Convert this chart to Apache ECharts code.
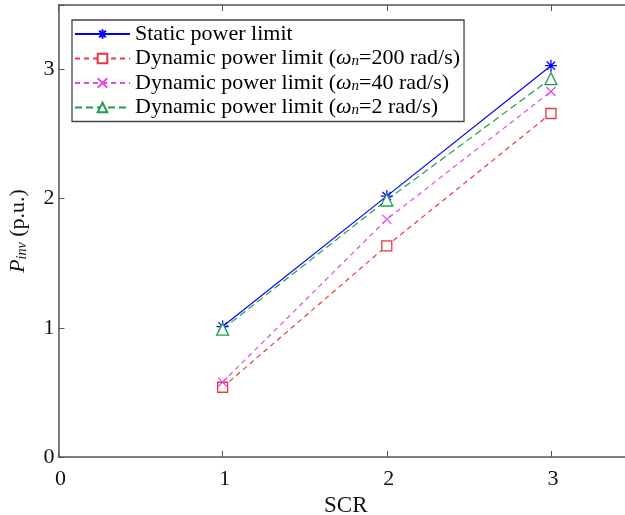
<!DOCTYPE html>
<html><head><meta charset="utf-8">
<script src="https://cdn.jsdelivr.net/npm/echarts@6/dist/echarts.min.js"></script>
<style>html,body{margin:0;padding:0;background:#fff}#c{width:625px;height:515px}</style>
</head><body><div id="c"></div>
<script>
const scr = [1, 2, 3];
const staticLimit = [1.01, 2.02, 3.03];
const dyn200 = [0.54, 1.635, 2.66];
const dyn40 = [0.58, 1.84, 2.83];
const dyn2 = [0.99, 1.99, 2.93];
const xTicks = [0, 1, 2, 3];
const yTicks = [0, 1, 2, 3];
const seriesNames = ['Static power limit', 'Dyn200', 'Dyn40', 'Dyn2'];
const legendLabels = {
  'Static power limit': 'Static power limit',
  'Dyn200': 'Dynamic power limit ({i|ω}{s|n}=200 rad/s)',
  'Dyn40': 'Dynamic power limit ({i|ω}{s|n}=40 rad/s)',
  'Dyn2': 'Dynamic power limit ({i|ω}{s|n}=2 rad/s)'
};
const FF = '"Liberation Serif","Times New Roman",serif';
const star = 'path://M5 0 L5 10 M0 5 L10 5 M1.5 1.5 L8.5 8.5 M8.5 1.5 L1.5 8.5';
const cross = 'path://M0 0 L10 10 M10 0 L0 10';
function pts(ys){ return scr.map((x,i)=>[x, ys[i]]); }
function mk(name, ys, color, dash, symbol, size, filledNone){
  return {
    name, type:'line', data: pts(ys), symbol, symbolSize: size,
    showSymbol:true,
    lineStyle:{color, width:1.2, type: dash},
    itemStyle:{color: filledNone ? 'none' : '#fff', borderColor: color, borderWidth:1.3},
    emphasis:{disabled:true}, animation:false, z: 3
  };
}
const chart = echarts.init(document.getElementById('c'));
const axisCol = '#555';
chart.setOption({
  animation:false,
  grid:{left:58.5, top:5, right:-8, bottom:58, containLabel:false, outerBoundsMode:'none'},
  legend:{
    orient:'vertical', left:72, top:20,
    data: seriesNames,
    backgroundColor:'#fff', borderColor:'#444', borderWidth:1.3,
    padding:[3,4,3,2], itemGap:0, itemWidth:55, itemHeight:12,
    textStyle:{fontFamily:FF, fontSize:22, color:'#000', lineHeight:21,
      rich:{
        i:{fontFamily:FF, fontSize:22, fontStyle:'italic', color:'#000', lineHeight:21},
        s:{fontFamily:FF, fontSize:15, fontStyle:'italic', color:'#000', verticalAlign:'bottom', lineHeight:21, padding:[9,0,0,0]}
      }},
    formatter: n => legendLabels[n]
  },
  xAxis:[{
    type:'value', min:0, max:3.5, interval:1,
    axisLine:{show:true, onZero:false, lineStyle:{color:axisCol, width:1.5}},
    axisTick:{show:true, inside:true, length:6, lineStyle:{color:axisCol}},
    axisLabel:{fontFamily:FF, fontSize:22, color:'#111', margin:11, padding:[0,0,0,4],
      formatter: v => xTicks.includes(v) ? String(v) : ''},
    splitLine:{show:false},
    name:'SCR', nameLocation:'middle', nameGap:29,
    nameTextStyle:{fontFamily:FF, fontSize:23, color:'#111'}
  },{
    type:'value', position:'top', min:0, max:3.5, interval:1,
    axisLine:{show:true, onZero:false, lineStyle:{color:axisCol, width:1.5}},
    axisTick:{show:true, inside:true, length:6, lineStyle:{color:axisCol}},
    axisLabel:{show:false}, splitLine:{show:false}
  }],
  yAxis:[{
    type:'value', min:0, max:3.5, interval:1,
    axisLine:{show:true, onZero:false, lineStyle:{color:axisCol, width:1.5}},
    axisTick:{show:true, inside:true, length:6, lineStyle:{color:axisCol}},
    axisLabel:{fontFamily:FF, fontSize:22, color:'#111', margin:4,
      formatter: v => yTicks.includes(v) ? String(v) : ''},
    splitLine:{show:false},
    name:'{p|P}{s|inv} {n|(p.u.)}', nameLocation:'middle', nameGap:29, nameRotate:90,
    nameTextStyle:{fontFamily:FF, fontSize:22, color:'#111',
      rich:{
        p:{fontFamily:FF, fontSize:22, fontStyle:'italic', color:'#111'},
        s:{fontFamily:FF, fontSize:14, fontStyle:'italic', color:'#111', verticalAlign:'bottom', padding:[8,0,0,0]},
        n:{fontFamily:FF, fontSize:22, color:'#111'}
      }}
  }],
  series:[
    mk('Static power limit', staticLimit, '#0000ff', 'solid', star, 12, true),
    mk('Dyn200', dyn200, '#e8393f', [5,4], 'rect', 10, false),
    mk('Dyn40', dyn40, '#e34ae3', [5,4], cross, 9, true),
    mk('Dyn2', dyn2, '#1f9e50', [7,4], 'triangle', 12, false)
  ]
});
</script></body></html>
